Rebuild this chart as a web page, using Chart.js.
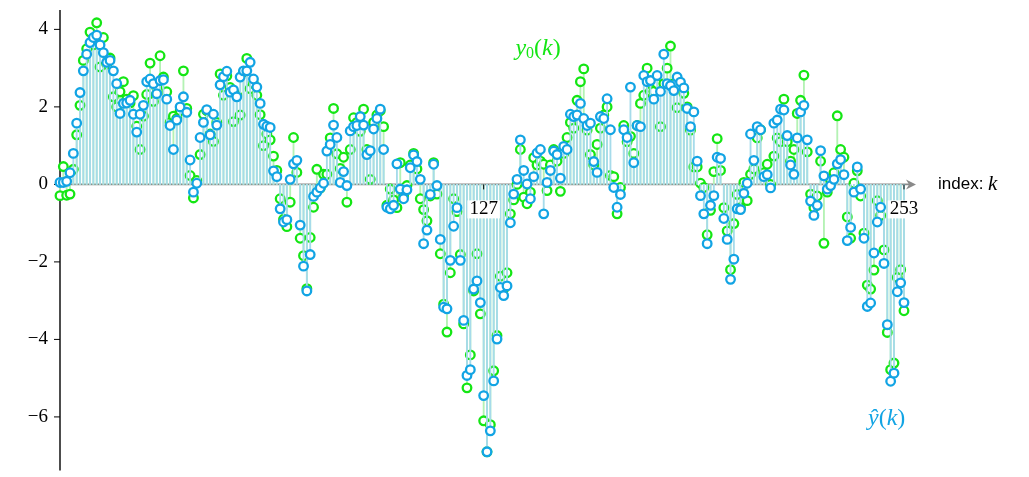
<!DOCTYPE html>
<html>
<head>
<meta charset="utf-8">
<script src="https://cdn.jsdelivr.net/npm/chart.js@4.4.1/dist/chart.umd.min.js"></script>
<style>
  html, body { margin: 0; padding: 0; background: #fff; }
  #wrap { width: 1029px; height: 477px; position: relative; }
</style>
</head>
<body>
<div id="wrap"><canvas id="stem"></canvas></div>
<script>
// estimated output yhat(k), k = 0..253
const yHat = [
  0.05, 0.05, 0.08, 0.3, 0.8, 1.58, 2.37, 2.93, 3.36, 3.66,
  3.79, 3.85, 3.6, 3.4, 3.15, 3.2, 2.93, 2.6, 1.83, 2.09,
  2.1, 2.17, 1.81, 1.35, 1.81, 2.04, 2.65, 2.72, 2.6, 2.34,
  2.68, 2.7, 2.2, 1.52, 0.9, 1.66, 2.0, 2.26, 1.86, 0.63,
  -0.2, 0.03, 1.21, 1.6, 1.93, 1.28, 1.81, 1.53, 2.57, 2.78,
  2.92, 2.38, 2.44, 2.26, 2.77, 2.93, 2.93, 3.15, 2.72, 2.51,
  2.09, 1.55, 1.5, 1.47, 0.35, 0.2, -0.63, -0.97, -0.91, 0.13,
  0.53, 0.62, -1.05, -2.11, -2.75, -1.81, -0.31, -0.2, -0.09, 0.03,
  0.86, 1.03, 1.53, 1.21, 0.05, 0.33, -0.03, 1.38, 1.49, 1.52,
  1.75, 1.53, 0.77, 0.87, 1.43, 1.7, 1.94, 0.9, -0.59, -0.63,
  -0.54, 0.53, -0.12, -0.37, -0.14, 0.43, 0.76, 0.59, 0.13, -1.53,
  -1.18, -0.26, 0.52, -0.03, -1.42, -3.17, -3.21, -1.96, -1.08, -0.6,
  -1.96, -3.51, -4.93, -4.78, -2.7, -2.49, -3.05, -5.45, -6.9, -6.36,
  -5.07, -3.99, -2.66, -2.87, -2.62, -0.99, -0.25, 0.13, 1.15, 0.36,
  0.01, -0.37, 0.2, 0.81, 0.9, -0.76, 0.05, 0.36, 0.86, 0.77,
  0.16, 0.98, 0.9, 1.81, 1.75, 1.79, 2.09, 1.7, 1.52, 1.58,
  0.59, 0.31, 1.75, 1.7, 2.21, 1.41, -0.08, -0.59, -0.26, 1.41,
  1.21, 2.51, 0.56, 1.52, 1.49, 2.81, 2.65, 2.68, 2.2, 2.81,
  2.4, 3.36, 2.6, 2.55, 2.42, 2.77, 2.64, 2.49, 1.96, 1.49,
  1.87, 0.6, -0.29, -0.76, -1.53, -0.54, -0.29, 0.7, 0.67, -0.88,
  -1.42, -2.45, -1.93, -0.63, -0.65, -0.23, 0.03, 1.3, 0.62, 1.49,
  1.41, 0.2, 0.25, -0.09, 1.58, 1.66, 1.94, 1.92, 1.26, 0.5,
  0.26, 1.2, 1.87, 2.04, 1.15, -0.43, -0.8, -0.54, 0.87, 0.22,
  -0.12, -0.03, 0.13, 0.53, 0.64, 0.25, -1.45, -1.11, -0.2, 0.45,
  -0.12, -1.39, -3.15, -3.06, -1.77, -0.97, -0.59, -2.04, -3.62, -5.08,
  -4.87, -2.77, -2.54, -3.05
];

// estimated reference y0(k)
const yRef = [
  -0.29, 0.46, -0.28, -0.25, 0.39, 1.28, 2.04, 3.2, 3.5, 3.93,
  3.6, 4.17, 3.03, 3.79, 3.1, 3.26, 2.26, 2.0, 2.39, 2.65,
  2.2, 2.1, 2.29, 1.5, 0.9, 1.76, 2.32, 3.13, 2.14, 2.5,
  3.32, 2.77, 2.39, 1.6, 1.76, 1.7, 1.9, 2.93, 1.96, 0.23,
  -0.35, 0.1, 0.77, 1.81, 1.9, 1.3, 1.11, 1.6, 2.85, 2.3,
  2.8, 2.5, 1.62, 2.3, 1.79, 2.9, 3.25, 2.47, 2.6, 2.3,
  1.8, 1.0, 1.3, 1.15, 0.73, 0.36, -0.37, -0.9, -1.09, -0.46,
  1.21, 0.31, -1.39, -1.84, -2.69, -1.37, -0.59, 0.39, -0.1, 0.26,
  0.26, 1.2, 1.96, 0.79, 0.41, 0.7, -0.46, 0.9, 1.72, 1.6,
  1.37, 1.94, 0.9, 0.13, 1.6, 1.79, 1.9, 1.49, -0.54, -0.12,
  -0.4, -0.6, 0.56, -0.3, -0.03, 0.5, 0.8, 0.4, -0.37, -0.65,
  -0.94, -0.3, 0.56, -0.25, -1.79, -3.09, -3.81, -2.28, -0.37, -0.7,
  -1.81, -3.6, -5.25, -4.4, -2.75, -1.79, -3.34, -6.1, -6.9, -6.2,
  -4.81, -3.9, -2.37, -2.7, -2.28, -0.76, -0.4, 0.0, 0.9, -0.33,
  -0.5, -0.2, 0.69, 0.5, 0.6, 0.52, -0.16, 0.5, 0.9, 0.6,
  -0.18, 0.8, 1.21, 1.6, 1.45, 2.17, 2.65, 2.98, 1.4, 0.77,
  0.5, 1.03, 1.45, 1.79, 2.0, 0.23, 0.2, -0.76, -0.08, 1.52,
  1.1, 1.24, 0.8, 1.52, 2.09, 2.3, 3.0, 2.4, 2.4, 2.6,
  1.49, 2.6, 3.0, 3.57, 2.6, 1.98, 2.5, 2.35, 2.0, 1.4,
  0.45, 0.45, 0.03, -0.08, -1.3, -0.67, 0.33, 1.18, 0.36, -0.6,
  -1.2, -2.2, -1.01, -0.26, -0.6, 0.05, -0.42, 0.26, 0.4, 1.2,
  1.41, 0.3, 0.52, 0.0, 0.73, 1.2, 1.1, 2.2, 1.1, 0.6,
  0.9, 1.83, 2.17, 2.82, 0.84, -0.25, -0.6, -0.3, 0.6, -1.52,
  -0.2, 0.1, 0.3, 1.77, 0.9, 0.7, -0.84, -1.39, 0.03, 0.35,
  -0.3, -1.26, -2.6, -2.7, -2.21, -0.42, -0.8, -1.69, -3.82, -4.78,
  -4.61, -2.4, -2.2, -3.26
];

const xTicks = [127, 253];
const yTicks = [-6, -4, -2, 0, 2, 4];
const xMax = 256;
const yMin = -7.38;
const yMax = 4.5;

const GREEN = '#14e614';
const GREEN_STEM = '#b4f2b4';
const BLUE = '#12a4e4';
const BLUE_STEM = '#a6dbea';
const SERIF = '"Liberation Serif", "DejaVu Serif", serif';
const SANS = '"Liberation Sans", "DejaVu Sans", sans-serif';

function toPoints(arr) {
  return arr.map((v, i) => ({ x: i, y: v }));
}

function drawParts(ctx, parts, x, y, align) {
  let w = 0;
  parts.forEach((p) => {
    ctx.font = p.font;
    p.w = ctx.measureText(p.t).width;
    w += p.w;
  });
  let cx = align === 'center' ? x - w / 2 : x;
  parts.forEach((p) => {
    ctx.font = p.font;
    ctx.fillText(p.t, cx, y + (p.dy || 0));
    cx += p.w;
  });
}

const axesPlugin = {
  id: 'stemAxes',
  beforeDatasetsDraw(chart) {
    const { ctx, scales: { x, y } } = chart;
    const py0 = y.getPixelForValue(0);
    const left = x.getPixelForValue(0);
    const right = x.getPixelForValue(xMax);
    ctx.save();
    // horizontal axis with arrow
    ctx.strokeStyle = '#8a8a8a';
    ctx.fillStyle = '#8a8a8a';
    ctx.lineWidth = 1.6;
    ctx.beginPath();
    ctx.moveTo(left, py0);
    ctx.lineTo(right - 4, py0);
    ctx.stroke();
    ctx.beginPath();
    ctx.moveTo(right + 2, py0);
    ctx.lineTo(right - 8, py0 - 5);
    ctx.lineTo(right - 5, py0);
    ctx.lineTo(right - 8, py0 + 5);
    ctx.closePath();
    ctx.fill();

    // vertical axis
    ctx.strokeStyle = '#000';
    ctx.lineWidth = 1.4;
    ctx.beginPath();
    ctx.moveTo(left, chart.chartArea.top);
    ctx.lineTo(left, chart.chartArea.bottom);
    ctx.stroke();

    ctx.fillStyle = '#000';
    ctx.textBaseline = 'middle';
    ctx.textAlign = 'right';
    ctx.font = '19px ' + SERIF;
    ctx.lineWidth = 1;
    yTicks.forEach((t) => {
      const py = y.getPixelForValue(t);
      ctx.beginPath();
      ctx.moveTo(left - 6, py);
      ctx.lineTo(left, py);
      ctx.stroke();
      ctx.fillText(String(t).replace('-', '\u2212'), left - 12, py);
    });
    ctx.restore();
  },
  afterDatasetsDraw(chart) {
    const { ctx, scales: { x, y } } = chart;
    const py0 = y.getPixelForValue(0);
    ctx.save();

    // x tick marks and labels on a white box, over the stems
    ctx.font = '19px ' + SERIF;
    ctx.textAlign = 'center';
    ctx.textBaseline = 'middle';
    ctx.strokeStyle = '#000';
    ctx.lineWidth = 1;
    xTicks.forEach((t) => {
      const px = x.getPixelForValue(t);
      const label = String(t);
      const w = ctx.measureText(label).width;
      ctx.fillStyle = '#fff';
      ctx.fillRect(px - w / 2 - 2, py0 + 16, w + 4, 18);
      ctx.beginPath();
      ctx.moveTo(px, py0);
      ctx.lineTo(px, py0 + 5);
      ctx.stroke();
      ctx.fillStyle = '#000';
      ctx.fillText(label, px, py0 + 25);
    });

    ctx.textAlign = 'left';
    ctx.fillStyle = '#000';
    drawParts(ctx, [
      { t: 'index: ', font: '17px ' + SANS },
      { t: 'k', font: 'italic 21px ' + SERIF },
    ], x.getPixelForValue(xMax) + 24, py0, 'left');

    ctx.fillStyle = GREEN;
    drawParts(ctx, [
      { t: 'y', font: 'italic 24px ' + SERIF },
      { t: '0', font: '16px ' + SERIF, dy: 5 },
      { t: '(', font: '24px ' + SERIF },
      { t: 'k', font: 'italic 24px ' + SERIF },
      { t: ')', font: '24px ' + SERIF },
    ], x.getPixelForValue(143.3), y.getPixelForValue(3.5), 'center');

    ctx.fillStyle = BLUE;
    drawParts(ctx, [
      { t: '\u0177', font: 'italic 24px ' + SERIF },
      { t: '(', font: '24px ' + SERIF },
      { t: 'k', font: 'italic 24px ' + SERIF },
      { t: ')', font: '24px ' + SERIF },
    ], x.getPixelForValue(247.8), y.getPixelForValue(-6.05), 'center');
    ctx.restore();
  },
};

const canvas = document.getElementById('stem');
new Chart(canvas.getContext('2d'), {
  type: 'scatter',
  data: {
    datasets: [
      {
        type: 'scatter',
        data: toPoints(yHat),
        borderColor: BLUE,
        backgroundColor: '#fff',
        pointRadius: 4.3,
        pointBorderWidth: 2.3,
        order: 0,
        clip: false,
      },
      {
        type: 'bar',
        data: toPoints(yHat),
        backgroundColor: BLUE_STEM,
        barThickness: 1.2,
        grouped: false,
        order: 1,
        clip: false,
      },
      {
        type: 'scatter',
        data: toPoints(yRef),
        borderColor: GREEN,
        backgroundColor: '#fff',
        pointRadius: 4.3,
        pointBorderWidth: 2.3,
        order: 2,
        clip: false,
      },
      {
        type: 'bar',
        data: toPoints(yRef),
        backgroundColor: GREEN_STEM,
        barThickness: 1.2,
        grouped: false,
        order: 3,
        clip: false,
      },
    ],
  },
  options: {
    responsive: true,
    maintainAspectRatio: false,
    animation: false,
    layout: { padding: { left: 60, right: 115, top: 10, bottom: 0 } },
    plugins: { legend: { display: false }, tooltip: { enabled: false } },
    scales: {
      x: { type: 'linear', display: false, min: 0, max: xMax, offset: false },
      y: { type: 'linear', display: false, min: yMin, max: yMax },
    },
  },
  plugins: [axesPlugin],
});
</script>
</body>
</html>
